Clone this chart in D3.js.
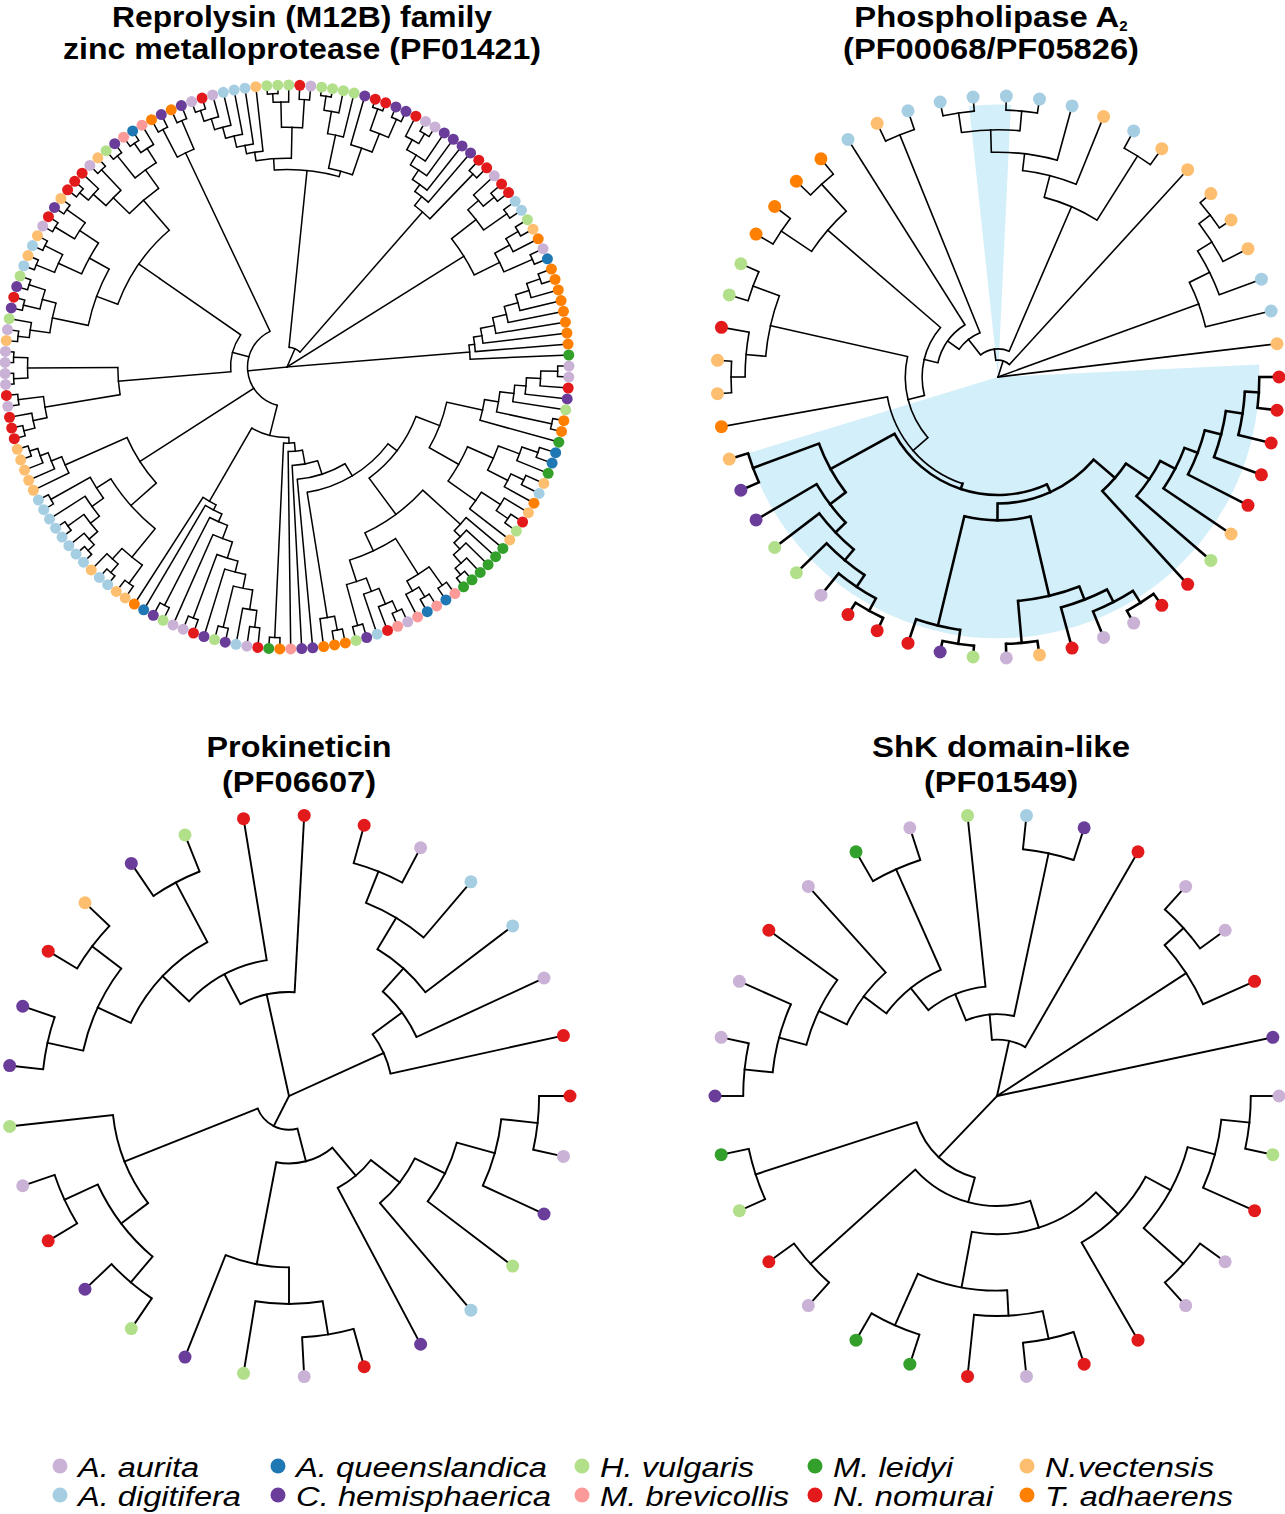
<!DOCTYPE html>
<html><head><meta charset="utf-8">
<script src="https://cdn.jsdelivr.net/npm/d3@7"></script>
<style>body{margin:0;background:#fff}svg{display:block}</style>
</head><body>
<svg id="chart" width="1285" height="1514"></svg>
<script>
// ---------- DATA ----------
const speciesCodes  = ["a","d","q","c","h","b","l","n","v","t"];
const speciesNames  = ["A. aurita","A. digitifera","A. queenslandica","C. hemisphaerica","H. vulgaris","M. brevicollis","M. leidyi","N. nomurai","N.vectensis","T. adhaerens"];
const speciesColors = ["#cab2d6","#a6cee3","#1f78b4","#6a3d9a","#b2df8a","#fb9a99","#33a02c","#e31a1c","#fdbf6f","#ff7f00"];

const titleLines = [
  ["Reprolysin (M12B) family","zinc metalloprotease (PF01421)"],
  ["Phospholipase A|2","(PF00068/PF05826)"],
  ["Prokineticin","(PF06607)"],
  ["ShK domain-like","(PF01549)"]
];
const titleWidths = [[380, 478], [265, 296], [185, 154], [258, 154]];

// Trees in Newick form: leaves = species code, internal label = node depth (fraction of leaf radius)
// --- Reprolysin (first leaf listed sits at the east side) ---
const rU   = `(((((((a,a)0.96,n)0.90,c)0.85,h)0.81,(t,t)0.96)0.76,l)0.71,((((q,q)0.94,l)0.88,((v,d)0.93,t)0.88)0.80,((v,(n,h)0.95)0.90,v)0.82)0.70)0.58`;
const rL   = `((l,(l,(l,(l,(l,l)0.96)0.93)0.89)0.86)0.83,(((b,q)0.95,((b,q)0.95,b)0.91)0.87,((((a,b)0.95,n)0.91,d)0.85,(c,h)0.95)0.80)0.72)0.65`;
const rBottom = `(((((((${rU},${rL})0.49,((t,t)0.95,t)0.90)0.45,c)0.40,c)0.35,b)0.30,(t,l)0.96)0.27`;
const rSW  = `(((((((((n,a)0.93,d)0.87,(c,h)0.95)0.80,c)0.75,(n,a)0.95)0.71,a)0.65,(h,c)0.95)0.60,q)0.57,t)0.55`;
const rWsw = `((((v,v)0.95,((d,d)0.96,v)0.92)0.87,(((((d,d)0.96,d)0.93,(d,d)0.96)0.89,d)0.85,(d,d)0.96)0.80)0.74,(v,(v,(v,(v,v)0.96)0.93)0.90)0.86)0.62`;
const rWm  = `((((n,n)0.96,n)0.92,(a,n)0.96)0.87,((a,a)0.97,(a,a)0.97)0.92)0.60`;
const rWnw = `((((((v,a)0.96,h)0.92,((c,n)0.96,(c,h)0.96)0.90)0.85,(((d,v)0.96,(d,v)0.96)0.89,((a,n)0.96,(c,v)0.96)0.88)0.80)0.72,((((n,n)0.96,n)0.92,(a,v)0.96)0.86,((h,c)0.96,((b,q)0.96,b)0.92)0.86)0.78)0.64`;
const rNL1 = `((((((a,n)0.96,a)0.92,d)0.88,d)0.84,d)0.80,v)0.77`;
const rNM  = `(((h,h)0.97,h)0.94,(n,a)0.95)0.85`;
const rNR  = `(((h,h)0.97,h)0.92,h)0.84`;
const rN1a = `(c,((n,n)0.97,(c,c)0.96)0.89)0.82`;
const rN   = `((${rNL1},${rNM})0.74,(${rNR},${rN1a})0.72)0.70`;
const rNE1 = `((((((n,(a,a)0.96)0.92,c)0.88,c)0.84,c)0.80,c)0.77,(n,n)0.95)0.73`;
const rNE2 = `(((a,(n,n)0.95)0.90,(d,d)0.95)0.85,(((h,v)0.95,t)0.90,(a,q)0.95)0.84)0.74`;
const rE   = `((((((((t,t)0.95,t)0.90,t)0.85,t)0.80,t)0.75,t)0.70,t)0.67,l)0.65`;
const treeReprolysin = `((((${rBottom},${rSW})0.25,${rWsw},(${rWm},${rWnw})0.55)0.20,((t,c)0.95,(t,c)0.95)0.84)0.14,(${rN},${rNE1})0.07,${rNE2},${rE})`;

// --- Phospholipase A2 ---
const pRight = `((((((((n,n)0.93,n)0.88,n)0.82,n)0.76,v)0.71,h)0.65,n)0.55,(((((n,a)0.95,a)0.90,n)0.85,(v,a)0.95)0.80,((h,c)0.96,n)0.91)0.51)0.45`;
const pLow   = `((((((n,n)0.95,a)0.90,h)0.85,h)0.80,c)0.75,(c,v)0.93)0.68`;
const pUpper = `((((((${pRight},${pLow})0.42,t)0.40,(((v,v)0.95,n)0.90,(h,h)0.93)0.83)0.33,((t,t)0.93,(t,t)0.93)0.80)0.27,d)0.22,(v,d)0.93)0.17`;
const pTop   = `(((((d,d)0.95,(d,d)0.95)0.88,d)0.80,v)0.74,(d,v)0.93)0.66`;
const treePhospholipase = `(((${pUpper},${pTop})0.10,v)0.06,((((v,v)0.95,v)0.90,d)0.84,d)0.76,v)`;
const phosphoHighlights = [[-0.4, 24.0, 0.93], [38.85, 40.15, 0.97]]; // [from leaf, to leaf, outer depth]

// --- Prokineticin ---
const treeProkineticin = `(((((((((n,a)0.89,c)0.76,h)0.62,d)0.50,c)0.37,(((n,a)0.86,h)0.74,c)0.61)0.24,(((h,c)0.87,(n,a)0.88)0.75,h)0.63)0.12,(((((c,c)0.88,(n,v)0.88)0.75,(c,h)0.86)0.62,n)0.49,n)0.37,(((((n,a)0.86,d)0.74,d)0.61,a)0.50,n)0.37)`;

// --- ShK domain-like ---
const sN8 = `((((a,h)0.90,n)0.80,(a,a)0.89)0.70,n)0.60`;
const sN7 = `(((n,a)0.88,n)0.78,(l,l)0.89)0.69`;
const sN2 = `((((${sN8},${sN7})0.49,(a,n)0.89)0.39,(h,l)0.90)0.30`;
const sN1 = `(((((((((c,a)0.90,a)0.80,n)0.70,a)0.59,(l,a)0.88)0.49,h)0.39,(d,c)0.88)0.29,n)0.20`;
const treeShK = `((${sN2},${sN1})0.10,((a,a)0.89,n)0.80,c)`;

// ---------- LAYOUT ----------
const panels = [
  {tree: treeReprolysin,    cx: 287, cy: 367,  R: 282, start: 359.8, dot: 5.5, stroke: 1.5, tx: 302, ty: [27, 59]},
  {tree: treePhospholipase, cx: 998, cy: 377,  R: 281, start: 0,     dot: 6.5, stroke: 1.6, tx: 991, ty: [27, 59], highlights: phosphoHighlights},
  {tree: treeProkineticin,  cx: 289, cy: 1096, R: 281, start: 0,     dot: 6.5, stroke: 1.9, tx: 299, ty: [757, 792]},
  {tree: treeShK,           cx: 997, cy: 1096, R: 282, start: 0,     dot: 6.5, stroke: 1.9, tx: 1001, ty: [757, 792]}
];

function parseNewick(s) {
  let i = 0;
  function node() {
    const n = {};
    if (s[i] === "(") {
      i++; n.children = [];
      while (true) {
        n.children.push(node());
        if (s[i] === ",") { i++; } else { i++; break; }
      }
    }
    let lab = "";
    while (i < s.length && !",();".includes(s[i])) lab += s[i++];
    if (n.children) n.depth = lab === "" ? 0 : +lab; else n.sp = lab;
    return n;
  }
  return node();
}

const color = d3.scaleOrdinal().domain(speciesCodes).range(speciesColors);
const svg = d3.select("#chart");
svg.append("rect").attr("width",1285).attr("height",1514).attr("fill","#fff");

panels.forEach((p, pi) => {
  const g = svg.append("g");
  const root = d3.hierarchy(parseNewick(p.tree));
  const leaves = root.leaves();
  const n = leaves.length;
  const toRad = Math.PI / 180;
  const angle = d3.scaleLinear().domain([0, n]).range([p.start * toRad, (p.start + 360) * toRad]);
  const radius = d3.scaleLinear().domain([0, 1]).range([0, p.R]);
  leaves.forEach((d, i) => { d.a = angle(i); d.r = radius(1); d.lo = i; d.hi = i; });
  root.eachAfter(d => {
    if (d.children) {
      d.a = (d.children[0].a + d.children[d.children.length - 1].a) / 2;
      d.r = radius(d.data.depth);
      d.lo = d3.min(d.children, c => c.lo); d.hi = d3.max(d.children, c => c.hi);
    }
  });
  const pt = (a, r) => [p.cx + r * Math.cos(a), p.cy + r * Math.sin(a)];

  (p.highlights || []).forEach(h => {
    const arc = d3.arc().innerRadius(0).outerRadius(radius(h[2]))
      .startAngle(angle(h[0]) + Math.PI / 2).endAngle(angle(h[1]) + Math.PI / 2);
    g.append("path").attr("d", arc()).attr("transform", `translate(${p.cx},${p.cy})`).attr("fill", "#d3effa");
  });
  const thick = d => p.highlights && d.hi <= Math.floor(p.highlights[0][1]);

  root.descendants().forEach(d => {
    const sw = thick(d) ? p.stroke * 1.6 : p.stroke;
    if (d.parent) {
      const a = pt(d.a, d.parent.r), b = pt(d.a, d.r);
      g.append("line").attr("x1", a[0]).attr("y1", a[1]).attr("x2", b[0]).attr("y2", b[1])
        .attr("stroke", "#000").attr("stroke-width", sw).attr("stroke-linecap", "square");
    }
    if (d.children && d.r > 0) {
      const path = d3.path();
      path.arc(p.cx, p.cy, d.r, d.children[0].a, d.children[d.children.length - 1].a, false);
      g.append("path").attr("d", path.toString()).attr("fill", "none")
        .attr("stroke", "#000").attr("stroke-width", sw);
    }
  });
  g.selectAll("circle.leaf").data(leaves).join("circle").attr("class", "leaf")
    .attr("cx", d => pt(d.a, d.r)[0]).attr("cy", d => pt(d.a, d.r)[1])
    .attr("r", p.dot).attr("fill", d => color(d.data.sp));

  titleLines[pi].forEach((t, li) => {
    const txt = g.append("text").attr("x", p.tx).attr("y", p.ty[li]).attr("text-anchor", "middle")
      .attr("font-family", "Liberation Sans, Arial, sans-serif").attr("font-weight", "bold").attr("font-size", 30);
    const parts = t.split("|");
    txt.append("tspan").attr("textLength", titleWidths[pi][li]).attr("lengthAdjust", "spacingAndGlyphs").text(parts[0]);
    if (parts[1]) txt.append("tspan").attr("font-size", 15).attr("dy", 4).text(parts[1]);
  });
});

// legend
const legendX = [60, 278, 582, 815, 1027];
const legendY = [1467, 1496];
const legendW = [121, 163, 251, 255, 154, 189, 120, 160, 169, 188];
const lg = svg.append("g");
speciesNames.forEach((name, i) => {
  const col = Math.floor(i / 2), row = i % 2;
  lg.append("circle").attr("cx", legendX[col]).attr("cy", legendY[row] - 1).attr("r", 7.5).attr("fill", speciesColors[i]);
  lg.append("text").attr("x", legendX[col] + 18).attr("y", legendY[row] + 10)
    .attr("font-family", "Liberation Sans, Arial, sans-serif").attr("font-style", "italic").attr("font-size", 27)
    .attr("textLength", legendW[i]).attr("lengthAdjust", "spacingAndGlyphs").text(name);
});
</script>
</body></html>
